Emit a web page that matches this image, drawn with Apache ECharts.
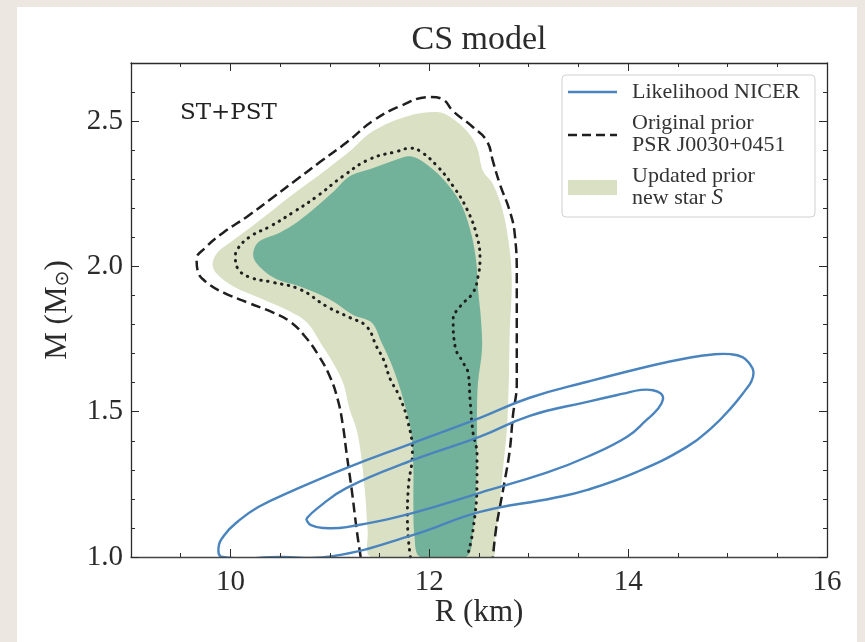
<!DOCTYPE html>
<html>
<head>
<meta charset="utf-8">
<script src="https://cdn.jsdelivr.net/npm/echarts@6/dist/echarts.min.js"></script>
<style>
html,body{margin:0;padding:0;background:#ece8e1;}
#paper{position:absolute;left:17px;top:7px;width:840px;height:635px;background:#fff;}
#main{position:absolute;left:0;top:0;width:865px;height:642px;}
</style>
</head>
<body>
<div id="paper"></div>
<div id="main"></div>
<script>
// tick labels
var rTicks = [10, 12, 14, 16];
var mTicks = [1.0, 1.5, 2.0, 2.5];

// updated prior, new star S (filled regions) [R, M]
var updatedOuter = [
  [11.42,1.000],[11.38,1.093],[11.36,1.197],[11.32,1.334],[11.27,1.438],[11.20,1.507],
  [11.14,1.593],[11.07,1.645],[10.93,1.724],[10.77,1.807],[10.60,1.845],[10.33,1.886],
  [10.03,1.931],[9.87,1.972],[9.82,2.007],[9.87,2.048],[10.00,2.083],[10.27,2.152],
  [10.60,2.241],[10.93,2.324],[11.20,2.396],[11.43,2.465],[11.78,2.517],[12.08,2.531],
  [12.21,2.514],[12.38,2.465],[12.48,2.410],[12.54,2.328],[12.64,2.283],[12.74,2.190],
  [12.81,2.052],[12.83,1.938],[12.81,1.783],[12.80,1.610],[12.78,1.438],[12.74,1.300],
  [12.70,1.162],[12.66,1.059],[12.63,1.000]
];
var updatedInner = [
  [11.91,1.000],[11.85,1.076],[11.84,1.197],[11.84,1.300],[11.82,1.421],[11.74,1.541],
  [11.63,1.655],[11.52,1.738],[11.42,1.807],[11.23,1.834],[11.00,1.886],[10.70,1.931],
  [10.47,1.955],[10.32,1.990],[10.23,2.034],[10.28,2.083],[10.50,2.117],[10.67,2.152],
  [10.87,2.207],[11.03,2.255],[11.20,2.310],[11.40,2.334],[11.68,2.369],[11.81,2.379],
  [11.94,2.359],[12.14,2.300],[12.31,2.221],[12.41,2.128],[12.47,2.024],[12.49,1.921],
  [12.52,1.817],[12.53,1.714],[12.49,1.600],[12.48,1.507],[12.48,1.369],[12.47,1.231],
  [12.44,1.093],[12.37,1.000]
];

// original prior PSR J0030+0451 (contour lines) [R, M]
var originalOuter = [
  [11.31,1.000],[11.27,1.093],[11.22,1.231],[11.17,1.352],[11.13,1.455],[11.08,1.541],
  [11.00,1.621],[10.88,1.697],[10.75,1.759],[10.60,1.810],[10.43,1.841],[10.17,1.876],
  [9.93,1.910],[9.76,1.945],[9.67,1.985],[9.66,2.025],[9.74,2.062],[9.93,2.117],
  [10.17,2.172],[10.43,2.238],[10.67,2.300],[10.90,2.359],[11.17,2.427],[11.43,2.500],
  [11.71,2.552],[12.01,2.583],[12.13,2.576],[12.24,2.534],[12.44,2.479],[12.58,2.431],
  [12.64,2.362],[12.71,2.283],[12.81,2.190],[12.86,2.110],[12.88,1.962],[12.88,1.783],
  [12.88,1.600],[12.84,1.483],[12.81,1.369],[12.76,1.265],[12.71,1.172],[12.67,1.093],
  [12.64,1.000]
];
var originalInner = [
  [11.81,1.000],[11.78,1.128],[11.79,1.241],[11.83,1.359],[11.78,1.472],[11.69,1.559],
  [11.61,1.610],[11.54,1.679],[11.47,1.724],[11.37,1.793],[11.20,1.824],[10.97,1.862],
  [10.70,1.921],[10.43,1.945],[10.20,1.962],[10.08,1.990],[10.05,2.031],[10.07,2.059],
  [10.20,2.103],[10.40,2.138],[10.63,2.186],[10.87,2.241],[11.13,2.310],[11.40,2.369],
  [11.68,2.396],[11.81,2.407],[11.91,2.396],[12.08,2.345],[12.24,2.276],[12.38,2.196],
  [12.48,2.103],[12.51,2.024],[12.49,1.965],[12.44,1.910],[12.31,1.862],[12.24,1.817],
  [12.26,1.724],[12.34,1.669],[12.39,1.634],[12.41,1.541],[12.44,1.428],[12.48,1.352],
  [12.48,1.266],[12.44,1.093],[12.38,1.000]
];

// likelihood NICER (two closed contours) [R, M]
var nicerOuter = [
  [10.50,1.000],[11.03,1.003],[11.84,1.076],[12.51,1.155],[13.25,1.203],[13.59,1.231],
  [14.09,1.293],[14.59,1.379],[14.85,1.448],[15.04,1.515],[15.17,1.570],[15.24,1.605],
  [15.26,1.638],[15.22,1.666],[15.15,1.688],[15.03,1.698],[14.85,1.697],[14.60,1.685],
  [14.25,1.660],[13.59,1.603],[13.01,1.548],[12.51,1.479],[11.84,1.393],[11.17,1.307],
  [10.60,1.224],[10.28,1.172],[10.08,1.124],[9.94,1.076],[9.88,1.031],[9.92,1.000]
];
var nicerInner = [
  [10.77,1.134],[10.88,1.169],[11.17,1.238],[11.84,1.334],[12.51,1.414],[13.01,1.486],
  [13.59,1.534],[13.95,1.562],[14.13,1.575],[14.25,1.574],[14.33,1.562],[14.35,1.542],
  [14.30,1.510],[14.18,1.470],[13.99,1.414],[13.59,1.345],[13.18,1.290],[12.51,1.221],
  [11.84,1.152],[11.17,1.103],[10.93,1.100],[10.81,1.110],[10.77,1.124]
];

var serif = '"Liberation Serif", "DejaVu Serif", serif';
var dark = '#2b2b2b';

function fillSeries(pts, color) {
  return {
    type: 'custom', data: pts, clip: true, silent: true, z: 1,
    renderItem: function (params, api) {
      if (params.dataIndex !== 0) return null;
      var ps = pts.map(function (p) { return api.coord(p); });
      return { type: 'polygon', shape: { points: ps, smooth: 0.35 }, style: { fill: color } };
    }
  };
}

// closed outline, no fill
function loopSeries(pts, color) {
  return {
    type: 'custom', data: pts, clip: true, silent: true, z: 4,
    renderItem: function (params, api) {
      if (params.dataIndex !== 0) return null;
      var ps = pts.map(function (p) { return api.coord(p); });
      return { type: 'polygon', shape: { points: ps, smooth: 0.45 }, style: { fill: null, stroke: color, lineWidth: 2.4 } };
    }
  };
}

function lineSeries(pts, style) {
  return { type: 'line', data: pts, symbol: 'none', smooth: 0.45, silent: true, z: 3, lineStyle: style };
}

var chart = echarts.init(document.getElementById('main'));
var option = {
  animation: false,
  grid: { left: 131, right: 38, top: 63, bottom: 85 },
  xAxis: [
    { type: 'value', position: 'bottom', min: 9, max: 16, interval: 0.5, z: 10,
      axisLine: { show: true, onZero: false, lineStyle: { color: '#444', width: 1.3 } },
      axisTick: { show: true, inside: true, length: 4, lineStyle: { color: dark } },
      axisLabel: { show: false }, splitLine: { show: false },
      name: 'R (km)', nameLocation: 'middle', nameGap: 40,
      nameTextStyle: { fontFamily: serif, fontSize: 31, color: dark } },
    { type: 'value', position: 'bottom', min: 9, max: 16, interval: 0.5, z: 10,
      axisLine: { show: false },
      axisTick: { show: true, inside: true, length: 8, customValues: rTicks, lineStyle: { color: dark } },
      axisLabel: { customValues: rTicks, margin: 11, fontFamily: serif, fontSize: 29, color: dark },
      splitLine: { show: false } },
    { type: 'value', position: 'top', min: 9, max: 16, interval: 0.5, z: 10,
      axisLine: { show: true, onZero: false, lineStyle: { color: dark, width: 1.3 } },
      axisTick: { show: true, inside: true, length: 4, lineStyle: { color: dark } },
      axisLabel: { show: false }, splitLine: { show: false } },
    { type: 'value', position: 'top', min: 9, max: 16, interval: 0.5, z: 10,
      axisLine: { show: false },
      axisTick: { show: true, inside: true, length: 8, customValues: rTicks, lineStyle: { color: dark } },
      axisLabel: { show: false }, splitLine: { show: false } }
  ],
  yAxis: [
    { type: 'value', position: 'left', min: 1, max: 2.7, interval: 0.1, z: 10,
      axisLine: { show: true, onZero: false, lineStyle: { color: dark, width: 1.3 } },
      axisTick: { show: true, inside: true, length: 4, lineStyle: { color: dark } },
      axisLabel: { show: false }, splitLine: { show: false },
      name: 'M (M{sub|⊙})', nameLocation: 'middle', nameGap: 58,
      nameTextStyle: { fontFamily: serif, fontSize: 31, color: dark,
        rich: { sub: { fontFamily: '"DejaVu Sans", sans-serif', fontSize: 19, color: dark, padding: [12, 0, 0, 0] } } } },
    { type: 'value', position: 'left', min: 1, max: 2.7, interval: 0.1, z: 10,
      axisLine: { show: false },
      axisTick: { show: true, inside: true, length: 8, customValues: mTicks, lineStyle: { color: dark } },
      axisLabel: { customValues: mTicks, margin: 8, fontFamily: serif, fontSize: 29, color: dark,
        formatter: function (v) { return v.toFixed(1); } },
      splitLine: { show: false } },
    { type: 'value', position: 'right', min: 1, max: 2.7, interval: 0.1, z: 10,
      axisLine: { show: true, onZero: false, lineStyle: { color: dark, width: 1.3 } },
      axisTick: { show: true, inside: true, length: 4, lineStyle: { color: dark } },
      axisLabel: { show: false }, splitLine: { show: false } },
    { type: 'value', position: 'right', min: 1, max: 2.7, interval: 0.1, z: 10,
      axisLine: { show: false },
      axisTick: { show: true, inside: true, length: 8, customValues: mTicks, lineStyle: { color: dark } },
      axisLabel: { show: false }, splitLine: { show: false } }
  ],
  series: [
    fillSeries(updatedOuter, '#d9e0c3'),
    fillSeries(updatedInner, '#73b29a'),
    lineSeries(originalOuter, { color: '#1f1f1f', width: 2.5, type: [10, 5] }),
    lineSeries(originalInner, { color: '#1f1f1f', width: 3, type: [0.5, 6.5], cap: 'round' }),
    loopSeries(nicerOuter, '#4a84be'),
    loopSeries(nicerInner, '#4a84be')
  ],
  graphic: [
    { type: 'text', x: 479, y: 40, style: { text: 'CS model', fill: dark, font: '34px ' + serif, align: 'center', verticalAlign: 'middle' } },
    { type: 'text', x: 180, y: 113, style: { text: 'ST+PST', fill: '#222', font: '23px "DejaVu Serif", serif', align: 'left', verticalAlign: 'middle' } },
    { type: 'rect', shape: { x: 562, y: 75, width: 253, height: 142, r: 4 }, style: { fill: 'rgba(255,255,255,0.85)', stroke: '#d0d0d0', lineWidth: 1 }, z: 20 },
    { type: 'line', shape: { x1: 568, y1: 92, x2: 617, y2: 92 }, style: { stroke: '#4a84be', lineWidth: 2.5 }, z: 21 },
    { type: 'line', shape: { x1: 568, y1: 135, x2: 617, y2: 135 }, style: { stroke: '#1f1f1f', lineWidth: 2.5, lineDash: [9, 5] }, z: 21 },
    { type: 'rect', shape: { x: 568, y: 180, width: 49, height: 15 }, style: { fill: '#d9e0c3' }, z: 21 },
    { type: 'text', x: 632, y: 92, z: 21, style: { text: 'Likelihood NICER', fill: '#333', font: '22px ' + serif, verticalAlign: 'middle' } },
    { type: 'text', x: 632, y: 123, z: 21, style: { text: 'Original prior', fill: '#333', font: '22px ' + serif, verticalAlign: 'middle' } },
    { type: 'text', x: 632, y: 145, z: 21, style: { text: 'PSR J0030+0451', fill: '#333', font: '22px ' + serif, verticalAlign: 'middle' } },
    { type: 'text', x: 632, y: 176, z: 21, style: { text: 'Updated prior', fill: '#333', font: '22px ' + serif, verticalAlign: 'middle' } },
    { type: 'text', x: 632, y: 198, z: 21, style: { text: 'new star {s|S}', fill: '#333', font: '22px ' + serif, verticalAlign: 'middle',
      rich: { s: { fontFamily: serif, fontSize: 23, fontStyle: 'italic', fill: '#333' } } } }
  ]
};
chart.setOption(option);
</script>
</body>
</html>
